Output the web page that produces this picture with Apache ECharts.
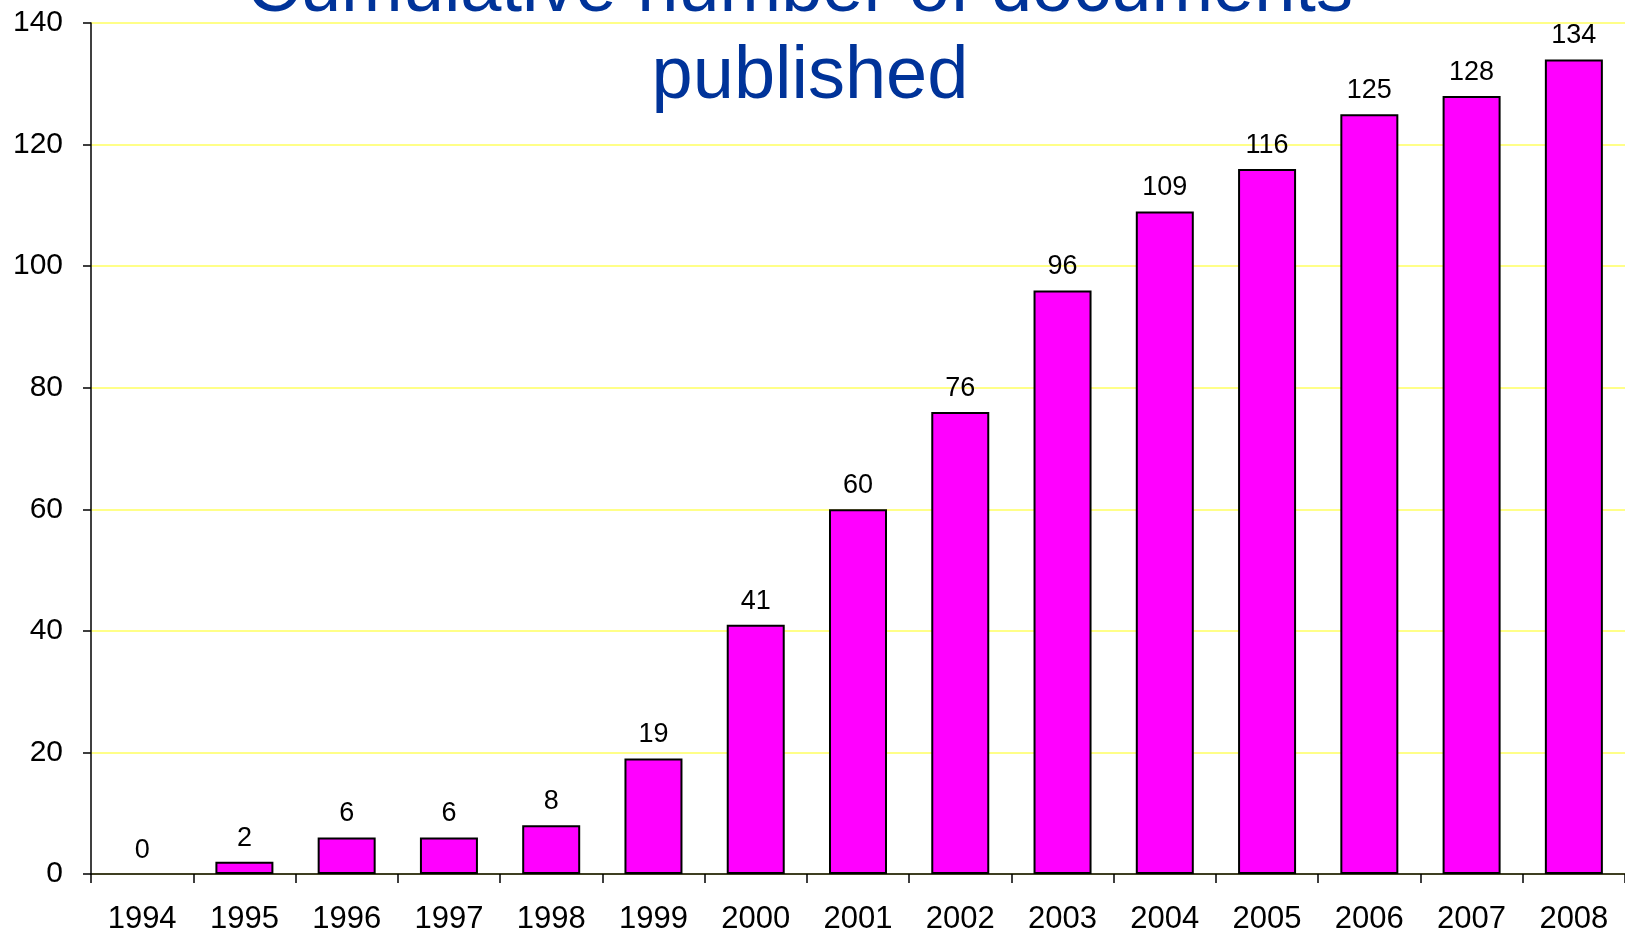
<!DOCTYPE html>
<html>
<head>
<meta charset="utf-8">
<title>Cumulative number of documents published</title>
<script src="https://cdn.jsdelivr.net/npm/echarts@6/dist/echarts.min.js"></script>
<style>
  html, body { margin: 0; padding: 0; background: #ffffff; }
  #chart { width: 1625px; height: 938px; }
</style>
</head>
<body>
<div id="chart"></div>
<script>
// Publication years along the x axis
const years = ['1994', '1995', '1996', '1997', '1998', '1999', '2000', '2001',
               '2002', '2003', '2004', '2005', '2006', '2007', '2008'];

// Running total of documents published by the end of each year
const cumulativeDocs = [0, 2, 6, 6, 8, 19, 41, 60, 76, 96, 109, 116, 125, 128, 134];

// Value axis range and step
const yMin = 0;
const yMax = 140;
const yStep = 20;

const FONT = '"Liberation Sans", Arial, sans-serif';

// An empty year draws no outline, only its label
const barData = cumulativeDocs.map(v =>
  v === 0 ? { value: v, itemStyle: { borderWidth: 0 } } : v
);

const chart = echarts.init(document.getElementById('chart'), null, { renderer: 'canvas' });

chart.setOption({
  backgroundColor: '#ffffff',
  animation: false,
  title: {
    text: 'Cumulative number of documents \npublished',
    left: 805,
    top: -58,
    textAlign: 'center',
    textStyle: {
      fontFamily: FONT,
      fontSize: 74,
      fontWeight: 'normal',
      color: '#003399',
      lineHeight: 87
    }
  },
  grid: {
    left: 91,
    right: -4,
    top: 23,
    bottom: 64,
    containLabel: false
  },
  xAxis: {
    type: 'category',
    data: years,
    boundaryGap: true,
    axisLine: { show: true, lineStyle: { color: '#000000', width: 1.5 } },
    axisTick: { show: true, inside: false, length: 9, alignWithLabel: false,
                lineStyle: { color: '#000000', width: 1.5 } },
    axisLabel: { color: '#000000', fontFamily: FONT, fontSize: 31, margin: 30,
                 interval: 0 },
    splitLine: { show: false }
  },
  yAxis: {
    type: 'value',
    min: yMin,
    max: yMax,
    interval: yStep,
    axisLine: { show: true, lineStyle: { color: '#000000', width: 1.5 } },
    axisTick: { show: true, inside: false, length: 8,
                lineStyle: { color: '#000000', width: 1.5 } },
    axisLabel: { color: '#000000', fontFamily: FONT, fontSize: 30, margin: 28 },
    splitLine: { show: true, lineStyle: { color: '#ffff88', width: 2 } }
  },
  series: [{
    type: 'bar',
    data: barData,
    barWidth: 58,
    itemStyle: {
      color: '#ff00ff',
      borderColor: '#000000',
      borderWidth: 2
    },
    label: {
      show: true,
      position: 'top',
      distance: 10,
      color: '#000000',
      fontFamily: FONT,
      fontSize: 27
    }
  }]
});
</script>
</body>
</html>
